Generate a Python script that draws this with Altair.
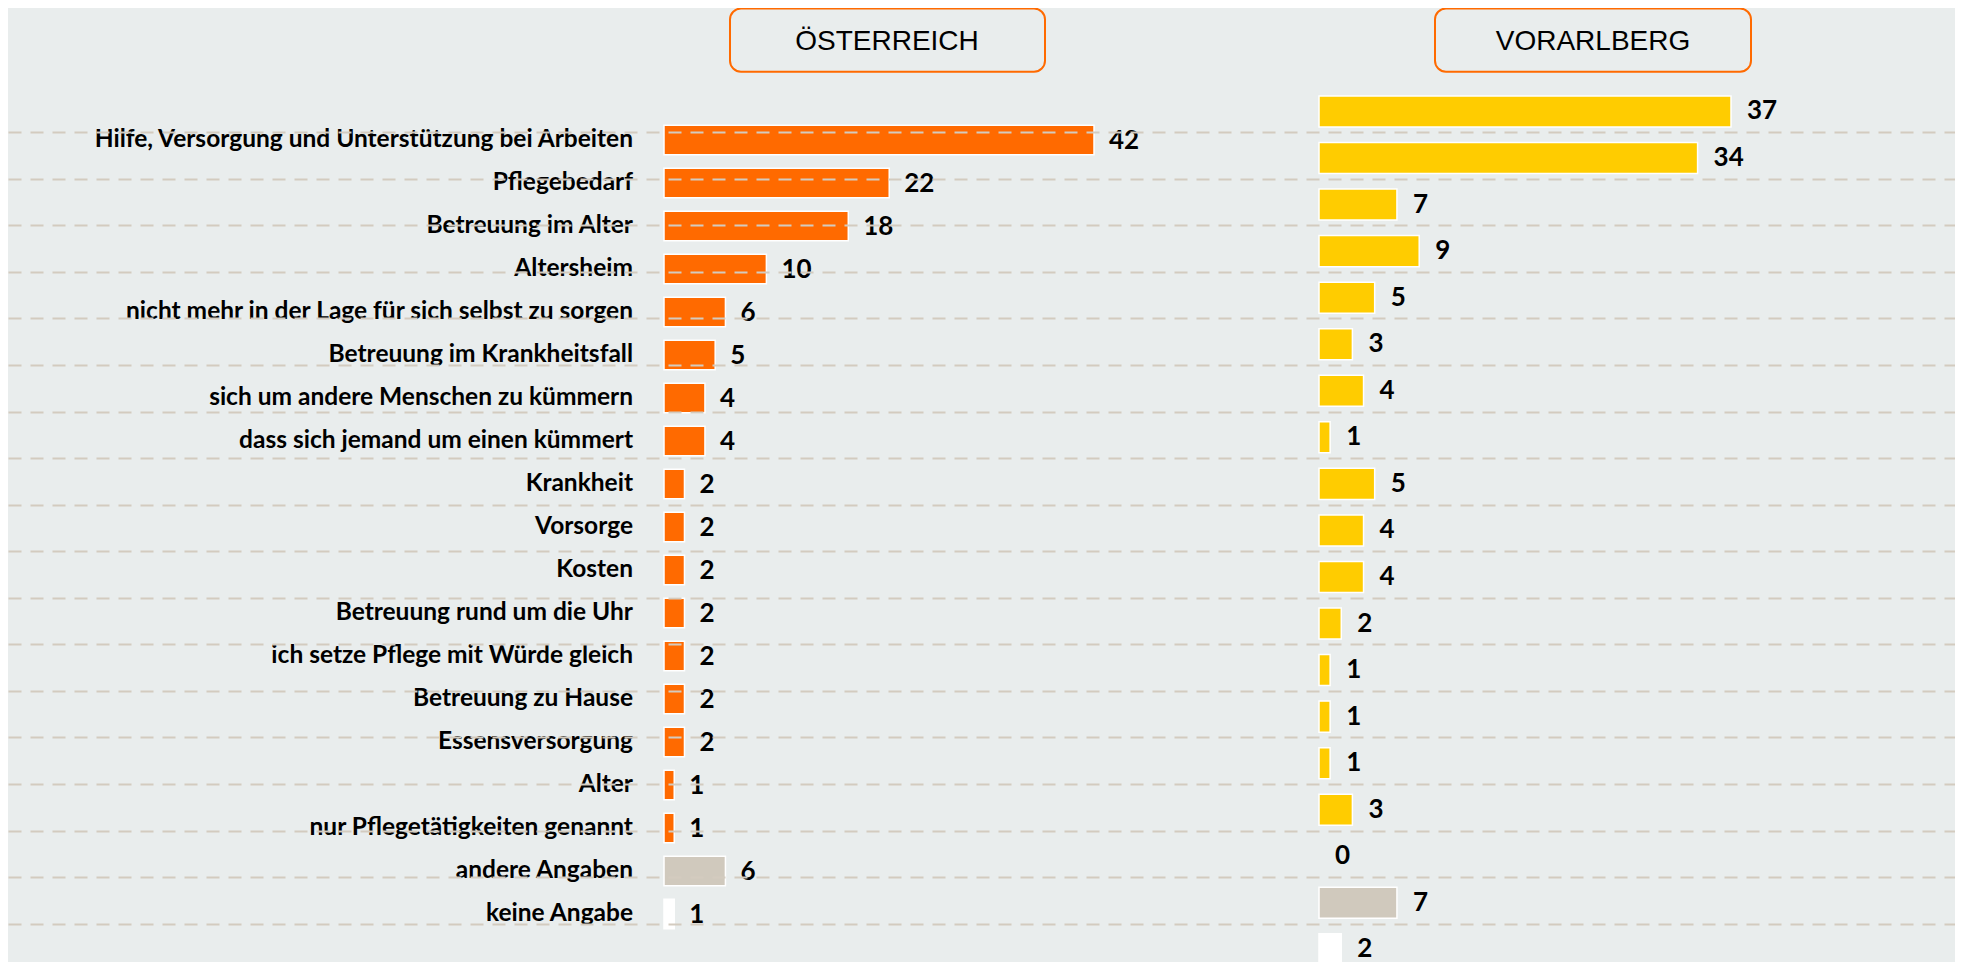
import altair as alt
import pandas as pd

# ---- data ----
categories = [
    "Hilfe, Versorgung und Unterstützung bei Arbeiten",
    "Pflegebedarf",
    "Betreuung im Alter",
    "Altersheim",
    "nicht mehr in der Lage für sich selbst zu sorgen",
    "Betreuung im Krankheitsfall",
    "sich um andere Menschen zu kümmern",
    "dass sich jemand um einen kümmert",
    "Krankheit",
    "Vorsorge",
    "Kosten",
    "Betreuung rund um die Uhr",
    "ich setze Pflege mit Würde gleich",
    "Betreuung zu Hause",
    "Essensversorgung",
    "Alter",
    "nur Pflegetätigkeiten genannt",
    "andere Angaben",
    "keine Angabe",
]
values_at = [42, 22, 18, 10, 6, 5, 4, 4, 2, 2, 2, 2, 2, 2, 2, 1, 1, 6, 1]
values_vb = [37, 34, 7, 9, 5, 3, 4, 1, 5, 4, 4, 2, 1, 1, 1, 3, 0, 7, 2]
titles = ["ÖSTERREICH", "VORARLBERG"]

ORANGE = "#FF6A00"
YELLOW = "#FFCC00"
GREY = "#D0C9BD"
WHITE = "#FFFFFF"
BG = "#E9EDED"
GRID = "#D3CBBF"


def colour_for(i, main):
    if categories[i] == "andere Angaben":
        return GREY
    if categories[i] == "keine Angabe":
        return WHITE
    return main


df_at = pd.DataFrame({
    "cat": categories,
    "value": values_at,
    "col": [colour_for(i, ORANGE) for i in range(len(categories))],
})
df_vb = pd.DataFrame({
    "cat": categories,
    "value": values_vb,
    "col": [colour_for(i, YELLOW) for i in range(len(categories))],
})
df_grid = pd.DataFrame({"cat": categories[:-1]})

LABEL_FONT = "Lato, sans-serif"
VALUE_FONT = "Lato, sans-serif"

# ---- scales ----
x_at = alt.Scale(domain=[0, 42], range=[656, 1086], nice=False, zero=True)
y_at = alt.Scale(type="band", domain=categories, range=[110.5, 927.5],
                 paddingInner=0.314, paddingOuter=0.157)
x_vb = alt.Scale(domain=[0, 37], range=[1311, 1723], nice=False, zero=True)
y_vb = alt.Scale(type="band", domain=categories, range=[80.2, 964.65],
                 paddingInner=0.334, paddingOuter=0.167)
y_grid = alt.Scale(type="point", domain=categories[:-1], range=[124.3, 915.6], padding=0)

# ---- grid lines (axis grid, drawn above the bars) ----
grid = alt.Chart(df_grid).mark_point(opacity=0).encode(
    y=alt.Y("cat:N", scale=y_grid,
            axis=alt.Axis(grid=True, gridDash=[13, 9], gridColor=GRID, gridWidth=2,
                          labels=False, ticks=False, domain=False, title=None, zindex=1)),
)

# ---- Österreich ----
at_base = alt.Chart(df_at)
at_bars = at_base.transform_filter("datum.value > 0").mark_bar(
    stroke="white", strokeWidth=1.5
).encode(
    x=alt.X("value:Q", scale=x_at, axis=None),
    y=alt.Y("cat:N", scale=y_at, axis=None),
    color=alt.Color("col:N", scale=None),
)
at_labels = at_base.mark_text(
    align="right", baseline="middle", dx=-31, dy=0, fontSize=24.5,
    fontWeight="bold", font=LABEL_FONT, color="black"
).encode(
    x=alt.XDatum(0, scale=x_at, axis=None),
    y=alt.Y("cat:N", scale=y_at, axis=None),
    text="cat:N",
)
at_values = at_base.mark_text(
    align="left", baseline="middle", dx=15, dy=1, fontSize=26,
    fontWeight="bold", font=VALUE_FONT, color="black"
).encode(
    x=alt.X("value:Q", scale=x_at, axis=None),
    y=alt.Y("cat:N", scale=y_at, axis=None),
    text="value:Q",
)

# ---- Vorarlberg ----
vb_base = alt.Chart(df_vb)
vb_bars = vb_base.transform_filter("datum.value > 0").mark_bar(
    stroke="white", strokeWidth=1.5
).encode(
    x=alt.X("value:Q", scale=x_vb, axis=None),
    y=alt.Y("cat:N", scale=y_vb, axis=None),
    color=alt.Color("col:N", scale=None),
)
vb_values = vb_base.mark_text(
    align="left", baseline="middle", dx=16, dy=0, fontSize=26,
    fontWeight="bold", font=VALUE_FONT, color="black"
).encode(
    x=alt.X("value:Q", scale=x_vb, axis=None),
    y=alt.Y("cat:N", scale=y_vb, axis=None),
    text="value:Q",
)

# ---- title boxes ----
def title_box(title, x0, x1, cx):
    d = pd.DataFrame({"t": [title]})
    box = alt.Chart(d).mark_rect(
        fill=BG, stroke=ORANGE, strokeWidth=2, cornerRadius=11
    ).encode(
        x=alt.value(x0), x2=alt.value(x1), y=alt.value(0.5), y2=alt.value(63.7)
    )
    txt = alt.Chart(d).mark_text(
        align="center", baseline="middle", fontSize=28,
        font="Liberation Sans, Arial, sans-serif", color="black"
    ).encode(
        x=alt.value(cx), y=alt.value(34), text="t:N"
    )
    return box, txt


box_at, txt_at = title_box(titles[0], 722, 1037, 879)
box_vb, txt_vb = title_box(titles[1], 1427, 1743, 1585)

chart = alt.layer(
    at_bars, vb_bars, grid, at_labels, at_values, vb_values,
    box_at, txt_at, box_vb, txt_vb,
).resolve_scale(
    x="independent", y="independent"
).properties(
    width=1947, height=954, padding=0,
    autosize=alt.AutoSizeParams(type="none"),
    background=BG,
).configure_view(stroke=None)

chart.save("out.html", embed_options={"renderer": "svg", "actions": False})
